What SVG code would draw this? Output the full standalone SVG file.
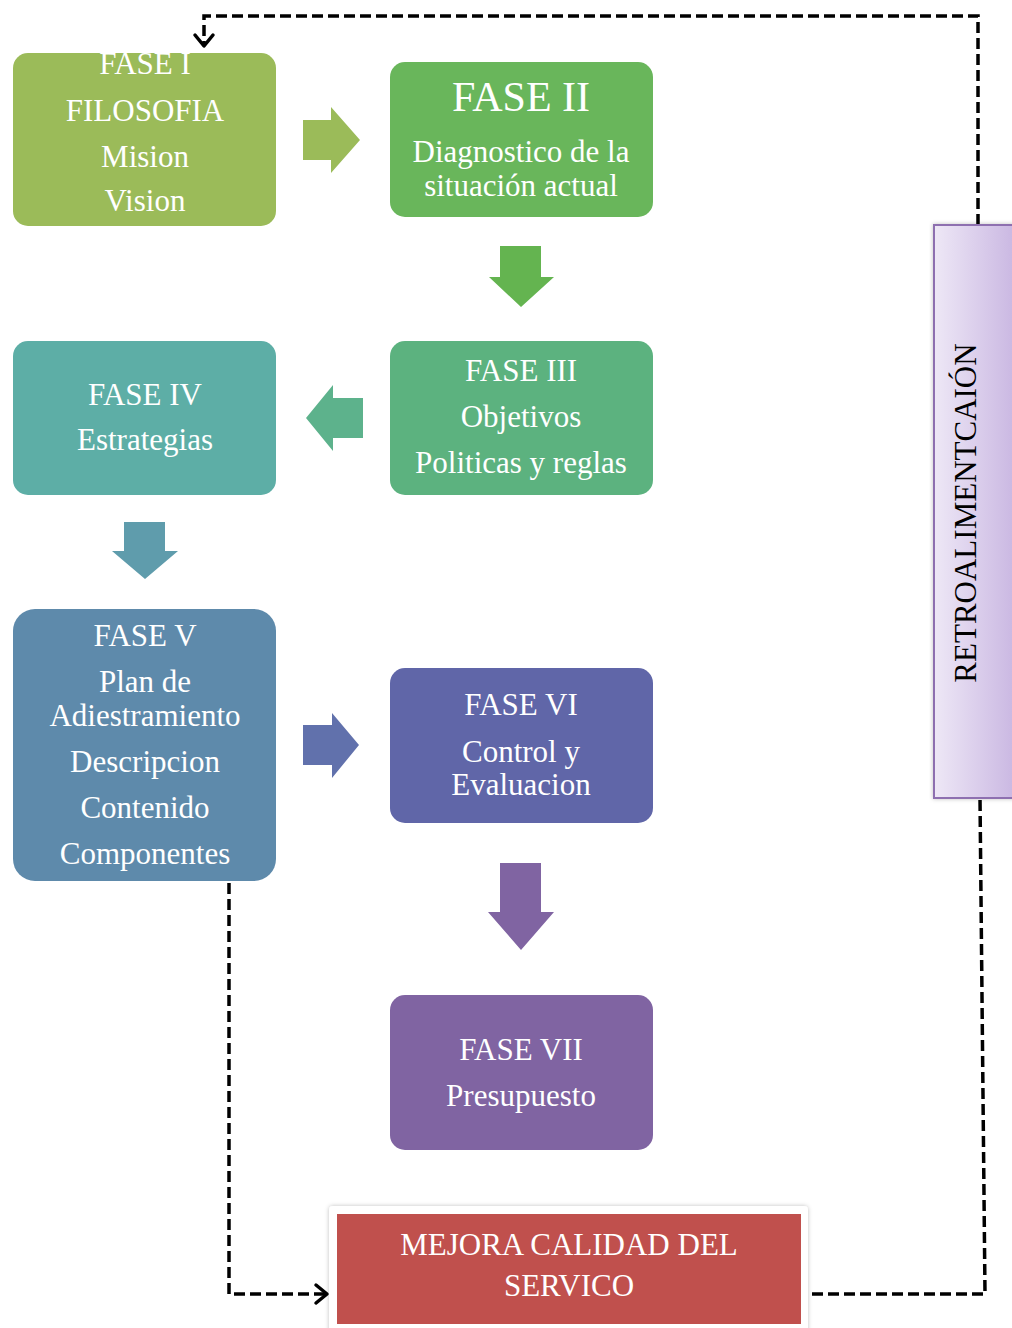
<svg xmlns="http://www.w3.org/2000/svg" width="1012" height="1328" viewBox="0 0 1012 1328">
<defs>
<style>
.t{font-family:"Liberation Serif","Times New Roman",serif;font-size:31px;fill:#fff;text-anchor:middle}
.big{font-size:42px}
.dash{fill:none;stroke:#000;stroke-width:3.5;stroke-dasharray:11 5}
.head{fill:none;stroke:#000;stroke-width:3.5;stroke-linecap:round;stroke-linejoin:round}
</style>
<linearGradient id="lav" x1="0" y1="0" x2="1" y2="0">
<stop offset="0" stop-color="#EEE8F6"/>
<stop offset="1" stop-color="#C6B2E0"/>
</linearGradient>
<filter id="sh" x="-5%" y="-5%" width="110%" height="110%">
<feDropShadow dx="0" dy="0" stdDeviation="2" flood-color="#000" flood-opacity="0.25"/>
</filter>
</defs>
<rect width="1012" height="1328" fill="#fff"/>

<g id="connectors">
<polyline class="dash" points="978,225 978,16 204,16 204,45"/>
<polyline class="head" points="195,35 204,46 213,35"/>
<polyline class="dash" points="229,883 229,1294 326,1294"/>
<polyline class="head" points="316,1285 327,1294 316,1303"/>
<polyline class="dash" points="812,1294 985,1294 980,798"/>
<polygon points="303,120 331,120 331,107 360,140 331,173 331,160 303,160" fill="#9BBB59"/>
<polygon points="500,246 541,246 541,277 554,277 521,307 489,277 500,277" fill="#64B450"/>
<polygon points="363,398 333,398 333,385 306,418 333,451 333,438 363,438" fill="#5DB28C"/>
<polygon points="124,522 165,522 165,551 178,551 145,579 112,551 124,551" fill="#5F9CAC"/>
<polygon points="303,725 332,725 332,713 359,745 332,778 332,765 303,765" fill="#6171AC"/>
<polygon points="500,863 541,863 541,912 554,912 521,950 488,912 500,912" fill="#8064A2"/>
</g>

<g id="fase1">
<rect x="13" y="53" width="263" height="173" rx="15" fill="#9BBB59"/>
<text class="t" x="145" y="74">FASE I</text>
<text class="t" x="145" y="121">FILOSOFIA</text>
<text class="t" x="145" y="167">Mision</text>
<text class="t" x="145" y="211">Vision</text>
</g>

<g id="fase2">
<rect x="390" y="62" width="263" height="155" rx="15" fill="#69B65B"/>
<text class="t big" x="521" y="111">FASE II</text>
<text class="t" x="521" y="162">Diagnostico de la</text>
<text class="t" x="521" y="196">situación actual</text>
</g>

<g id="fase3">
<rect x="390" y="341" width="263" height="154" rx="15" fill="#5CB27F"/>
<text class="t" x="521" y="381">FASE III</text>
<text class="t" x="521" y="427">Objetivos</text>
<text class="t" x="521" y="473">Politicas y reglas</text>
</g>

<g id="fase4">
<rect x="13" y="341" width="263" height="154" rx="15" fill="#5DAEA6"/>
<text class="t" x="145" y="405">FASE IV</text>
<text class="t" x="145" y="450">Estrategias</text>
</g>

<g id="fase5">
<rect x="13" y="609" width="263" height="272" rx="22" fill="#5E8AAB"/>
<text class="t" x="145" y="646">FASE V</text>
<text class="t" x="145" y="692">Plan de</text>
<text class="t" x="145" y="726">Adiestramiento</text>
<text class="t" x="145" y="772">Descripcion</text>
<text class="t" x="145" y="818">Contenido</text>
<text class="t" x="145" y="864">Componentes</text>
</g>

<g id="fase6">
<rect x="390" y="668" width="263" height="155" rx="15" fill="#6066A8"/>
<text class="t" x="521" y="715">FASE VI</text>
<text class="t" x="521" y="762">Control y</text>
<text class="t" x="521" y="795">Evaluacion</text>
</g>

<g id="fase7">
<rect x="390" y="995" width="263" height="155" rx="15" fill="#8064A2"/>
<text class="t" x="521" y="1060">FASE VII</text>
<text class="t" x="521" y="1106">Presupuesto</text>
</g>

<g id="mejora">
<rect x="329" y="1206" width="479" height="130" rx="4" fill="#fff" filter="url(#sh)"/>
<rect x="337" y="1214" width="464" height="110" fill="#C0504D"/>
<text class="t" x="569" y="1255">MEJORA CALIDAD DEL</text>
<text class="t" x="569" y="1296">SERVICO</text>
</g>

<g id="retro">
<rect x="934" y="225" width="90" height="573" fill="url(#lav)" stroke="#8E6FB0" stroke-width="2" filter="url(#sh)"/>
<text class="t" style="fill:#000" transform="translate(976,513) rotate(-90)">RETROALIMENTCAIÓN</text>
</g>
</svg>
